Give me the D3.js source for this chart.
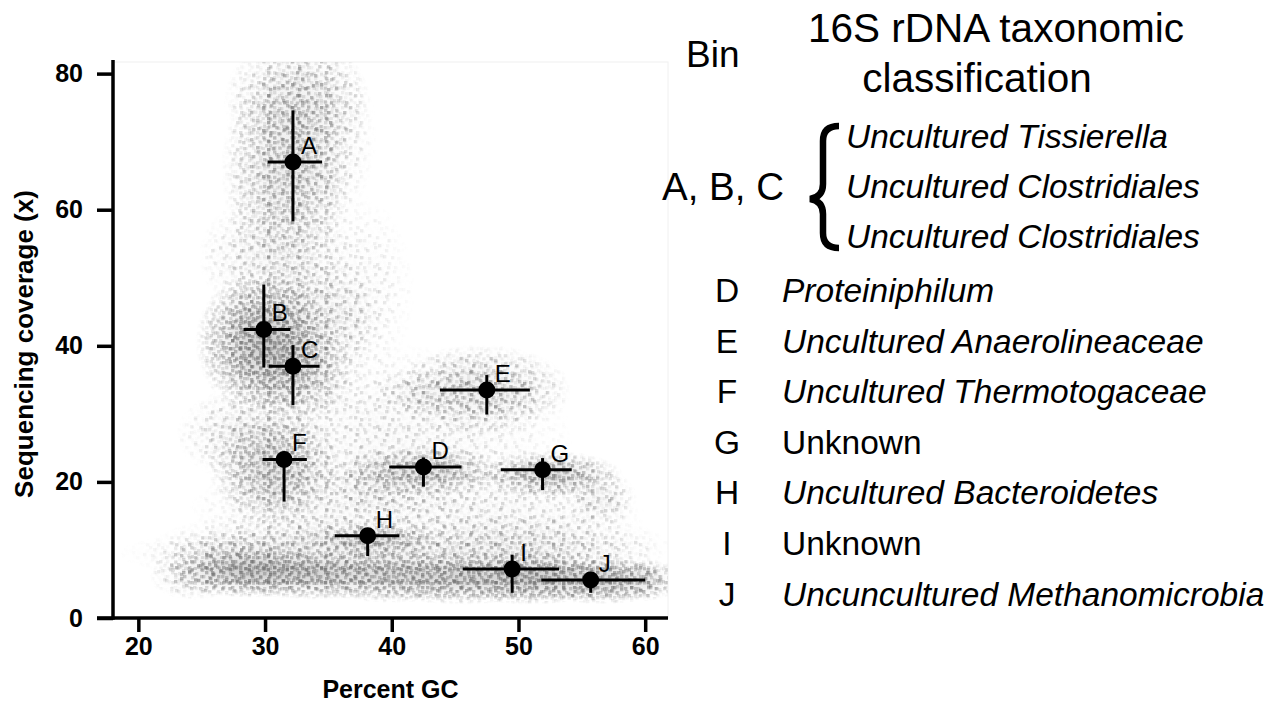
<!DOCTYPE html>
<html>
<head>
<meta charset="utf-8">
<script src="https://cdn.jsdelivr.net/npm/d3@7"></script>
<style>
  body { margin: 0; background: #fff; }
  text { font-family: "Liberation Sans", Arial, sans-serif; }
</style>
</head>
<body>
<div id="chart"></div>
<script>
// bins (error-bar crosses)
const bins = ["A", "B", "C", "D", "E", "F", "G", "H", "I", "J"];
const binGc = [32.2, 29.9, 32.2, 42.5, 47.5, 31.5, 51.9, 38.1, 49.5, 55.7];
const binCov = [67.0, 42.4, 37.0, 22.2, 33.5, 23.3, 21.8, 12.1, 7.2, 5.6];
const gcLow = [30.2, 28.3, 30.3, 39.8, 43.8, 29.8, 48.6, 35.5, 45.6, 51.8];
const gcHigh = [34.5, 32.0, 34.3, 45.5, 50.9, 33.3, 54.2, 40.6, 53.2, 60.0];
const covLow = [58.3, 36.8, 31.3, 19.3, 29.9, 17.1, 18.8, 9.1, 3.7, 3.7];
const covHigh = [74.6, 49.0, 40.1, 23.6, 35.7, 24.5, 23.5, 12.8, 9.3, 6.6];

// contig cloud, read as density blobs (centre, spread, density)
const cloudGc = [24.5, 29, 34, 40, 45.5, 51, 56.5, 60, 38.5, 33, 50,
                 31.8, 32.5, 34, 31, 30, 32.5, 33.5, 30.8, 29, 42.5, 39,
                 52.5, 56.5, 47, 42.5, 40, 36, 48, 37, 40, 28];
const cloudCov = [6.0, 6.8, 6.5, 6.3, 6.0, 6.0, 5.6, 5.6, 11.5, 10.5, 10.5,
                  66, 76, 71, 53, 40.5, 36.5, 44, 22, 27, 21.5, 20,
                  21, 17.5, 33.5, 33, 26, 16, 15, 48, 9.5, 8];
const cloudSdGc = [1.5, 2.8, 3, 3, 3, 2.8, 2.5, 1.2, 2.4, 5, 5,
                   2.2, 2.4, 2, 2.6, 2.3, 2, 2.5, 2.2, 2.5, 2.8, 2,
                   2.4, 1.2, 3, 1.8, 6, 5, 5, 2, 9, 3];
const cloudSdCov = [1.4, 1.6, 1.6, 1.7, 1.7, 1.7, 1.5, 1.3, 1.1, 2.2, 2.2,
                    6.5, 4, 6, 4, 4.5, 3.5, 4, 3.6, 3, 1.6, 2,
                    1.5, 1.8, 2.8, 1.5, 6, 3, 3, 6, 2, 2];
const cloudDensity = [0.3, 0.8, 0.75, 0.7, 0.75, 0.85, 0.8, 0.45, 0.6, 0.3, 0.3,
                      0.5, 0.4, 0.25, 0.3, 0.85, 0.55, 0.35, 0.6, 0.3, 0.6, 0.3,
                      0.65, 0.3, 0.45, 0.25, 0.2, 0.22, 0.2, 0.15, 0.3, 0.45];

// ticks
const xTicks = [20, 30, 40, 50, 60];
const yTicks = [0, 20, 40, 60, 80];

// legend
const abcTaxa = ["Uncultured Tissierella", "Uncultured Clostridiales", "Uncultured Clostridiales"];
const legendBins = ["D", "E", "F", "G", "H", "I", "J"];
const legendTaxa = ["Proteiniphilum", "Uncultured Anaerolineaceae", "Uncultured Thermotogaceae",
                    "Unknown", "Uncultured Bacteroidetes", "Unknown", "Uncuncultured Methanomicrobia"];
const legendItalic = [true, true, true, false, true, false, true];

function drawChart() {
    const width = 1284, height = 702;
    const plot = {left: 113, right: 668, top: 60, bottom: 618};

    const svg = d3.select("#chart")
        .append("svg")
        .attr("width", width)
        .attr("height", height);

    const x = d3.scaleLinear().domain([18, 61.8]).range([plot.left, plot.right]);
    const y = d3.scaleLinear().domain([0, 82]).range([plot.bottom, plot.top]);

    const defs = svg.append("defs");

    defs.append("clipPath").attr("id", "plotClip")
        .append("rect")
        .attr("x", plot.left).attr("y", plot.top + 2)
        .attr("width", plot.right - plot.left).attr("height", plot.bottom - plot.top - 2);

    // soft falloff used for the haze and for the speckle masks
    function blobGradient(id, color, stops) {
        const g = defs.append("radialGradient").attr("id", id);
        stops.forEach(s => g.append("stop")
            .attr("offset", s[0]).attr("stop-color", color).attr("stop-opacity", s[1]));
    }
    blobGradient("hazeGrad", "#8a8a8a", [[0, 1], [0.35, 0.65], [0.65, 0.22], [1, 0]]);
    blobGradient("maskGrad", "#ffffff", [[0, 1], [0.45, 0.8], [0.75, 0.35], [1, 0]]);

    // speckle textures standing in for the individual contigs
    const spotAlpha = [0.7, 0.45, 0.6, 0.5, 0.8, 0.4, 0.65, 0.55, 0.5];
    function speckle(id, w, h, spots, color) {
        const p = defs.append("pattern").attr("id", id)
            .attr("patternUnits", "userSpaceOnUse").attr("width", w).attr("height", h);
        spots.forEach((s, i) => p.append("rect")
            .attr("x", s[0]).attr("y", s[1]).attr("width", 3.4).attr("height", 3.4)
            .attr("fill", color).attr("fill-opacity", spotAlpha[i % spotAlpha.length]));
    }
    speckle("speckA", 31, 27, [[2, 3], [14, 1], [25, 6], [8, 11], [19, 13], [27, 18], [4, 20], [15, 23], [22, 23]], "#8c8c8c");
    speckle("speckB", 29, 23, [[6, 2], [20, 4], [11, 9], [25, 12], [1, 14], [16, 17], [8, 19]], "#888");
    speckle("speckC", 17, 15, [[1, 1], [8, 2], [13, 5], [4, 6], [10, 9], [14, 11.5], [1, 11], [6.5, 12]], "#7a7a7a");
    speckle("speckD", 19, 13, [[3, 1], [12, 3], [16, 8], [7, 6.5], [0.5, 9], [11, 10]], "#707070");

    const blobs = cloudGc.map((g, i) => ({
        gc: g, cov: cloudCov[i], sdGc: cloudSdGc[i], sdCov: cloudSdCov[i], d: cloudDensity[i]
    }));

    function densityMask(id, opacity) {
        const m = defs.append("mask").attr("id", id)
            .attr("maskUnits", "userSpaceOnUse")
            .attr("x", 0).attr("y", 0).attr("width", width).attr("height", height);
        m.selectAll("ellipse")
            .data(blobs)
            .join("ellipse")
            .attr("cx", d => x(d.gc))
            .attr("cy", d => y(d.cov))
            .attr("rx", d => x(d.gc + 2.4 * d.sdGc) - x(d.gc))
            .attr("ry", d => y(d.cov) - y(d.cov + 2.4 * d.sdCov))
            .attr("fill", "url(#maskGrad)")
            .attr("fill-opacity", opacity);
    }
    densityMask("maskSparse", d => Math.min(1, d.d * 2.2));
    densityMask("maskDense", d => Math.min(1, d.d * d.d * 1.4));

    // faint frame of the scatter panel
    svg.append("rect")
        .attr("x", plot.left).attr("y", plot.top + 2)
        .attr("width", plot.right - plot.left).attr("height", plot.bottom - plot.top - 2)
        .attr("fill", "none").attr("stroke", "#f0f0f0");

    const cloud = svg.append("g").attr("clip-path", "url(#plotClip)");

    cloud.selectAll(".haze")
        .data(blobs)
        .join("ellipse")
        .attr("class", "haze")
        .attr("cx", d => x(d.gc))
        .attr("cy", d => y(d.cov))
        .attr("rx", d => x(d.gc + 2.1 * d.sdGc) - x(d.gc))
        .attr("ry", d => y(d.cov) - y(d.cov + 2.1 * d.sdCov))
        .attr("fill", "url(#hazeGrad)")
        .attr("fill-opacity", d => d.d * d.d * 0.6);

    [["speckA", "maskSparse"], ["speckB", "maskSparse"],
     ["speckC", "maskDense"], ["speckD", "maskDense"]].forEach(l => {
        cloud.append("rect")
            .attr("x", plot.left).attr("y", plot.top)
            .attr("width", plot.right - plot.left).attr("height", plot.bottom - plot.top)
            .attr("fill", `url(#${l[0]})`)
            .attr("mask", `url(#${l[1]})`);
    });

    // bins: error bars, dots and letters
    const binData = bins.map((b, i) => ({
        name: b, gc: binGc[i], cov: binCov[i],
        gcLo: gcLow[i], gcHi: gcHigh[i], covLo: covLow[i], covHi: covHigh[i]
    }));

    const gBins = svg.append("g");
    gBins.selectAll(".hbar")
        .data(binData)
        .join("line")
        .attr("x1", d => x(d.gcLo)).attr("x2", d => x(d.gcHi))
        .attr("y1", d => y(d.cov)).attr("y2", d => y(d.cov))
        .attr("stroke", "#000").attr("stroke-width", 3);
    gBins.selectAll(".vbar")
        .data(binData)
        .join("line")
        .attr("x1", d => x(d.gc)).attr("x2", d => x(d.gc))
        .attr("y1", d => y(d.covLo)).attr("y2", d => y(d.covHi))
        .attr("stroke", "#000").attr("stroke-width", 3);
    gBins.selectAll("circle")
        .data(binData)
        .join("circle")
        .attr("cx", d => x(d.gc)).attr("cy", d => y(d.cov))
        .attr("r", 8.5).attr("fill", "#000");
    gBins.selectAll("text")
        .data(binData)
        .join("text")
        .attr("x", d => x(d.gc) + 8)
        .attr("y", d => y(d.cov) - 8)
        .attr("font-size", 24)
        .text(d => d.name);

    // axes
    const yAxis = svg.append("g")
        .attr("transform", `translate(${plot.left},0)`)
        .call(d3.axisLeft(y).tickValues(yTicks).tickSize(16).tickPadding(14));
    const xAxis = svg.append("g")
        .attr("transform", `translate(0,${plot.bottom})`)
        .call(d3.axisBottom(x).tickValues(xTicks).tickSize(14).tickPadding(5));
    [yAxis, xAxis].forEach(a => {
        a.select(".domain").remove();
        a.selectAll(".tick line").attr("stroke", "#000").attr("stroke-width", 3.5);
        a.selectAll(".tick text")
            .attr("fill", "#000")
            .attr("font-family", "Liberation Sans, Arial, sans-serif")
            .attr("font-weight", "bold")
            .attr("font-size", 25);
    });
    svg.append("line")
        .attr("x1", plot.left).attr("x2", plot.left)
        .attr("y1", plot.top).attr("y2", plot.bottom + 1.75)
        .attr("stroke", "#000").attr("stroke-width", 3.5);
    svg.append("line")
        .attr("x1", plot.left - 16).attr("x2", plot.right)
        .attr("y1", plot.bottom).attr("y2", plot.bottom)
        .attr("stroke", "#000").attr("stroke-width", 3.5);

    svg.append("text")
        .attr("transform", `translate(33,${(plot.top + plot.bottom) / 2 + 5}) rotate(-90)`)
        .attr("text-anchor", "middle")
        .attr("font-weight", "bold")
        .attr("font-size", 26)
        .text("Sequencing coverage (x)");
    svg.append("text")
        .attr("x", (plot.left + plot.right) / 2)
        .attr("y", 698)
        .attr("text-anchor", "middle")
        .attr("font-weight", "bold")
        .attr("font-size", 25)
        .text("Percent GC");

    // legend table
    const legend = svg.append("g");
    legend.append("text").attr("x", 686).attr("y", 67).attr("font-size", 37).text("Bin");
    legend.append("text").attr("x", 996).attr("y", 42).attr("text-anchor", "middle")
        .attr("font-size", 40.5).text("16S rDNA taxonomic");
    legend.append("text").attr("x", 977).attr("y", 92).attr("text-anchor", "middle")
        .attr("font-size", 40.5).text("classification");

    legend.append("text").attr("x", 662).attr("y", 200).attr("font-size", 38.5).text("A, B, C");
    legend.append("path")
        .attr("d", "M839,126 Q823,126 823,141 L823,184 Q823,197 810,199 Q823,201 823,214 L823,233 Q823,248 839,248")
        .attr("fill", "none").attr("stroke", "#000").attr("stroke-width", 6.5);
    legend.selectAll(".abc")
        .data(abcTaxa)
        .join("text")
        .attr("x", 846)
        .attr("y", (d, i) => 148 + i * 50)
        .attr("font-size", 33.5)
        .attr("font-style", "italic")
        .text(d => d);

    const rows = legendBins.map((b, i) => ({bin: b, taxon: legendTaxa[i], italic: legendItalic[i]}));
    const row = legend.selectAll(".row")
        .data(rows)
        .join("g")
        .attr("transform", (d, i) => `translate(0,${302 + i * 50.6})`);
    row.append("text")
        .attr("x", 727).attr("text-anchor", "middle")
        .attr("font-size", 33.5)
        .text(d => d.bin);
    row.append("text")
        .attr("x", 782)
        .attr("font-size", 33.5)
        .attr("font-style", d => d.italic ? "italic" : "normal")
        .text(d => d.taxon);
}

drawChart();
</script>
</body>
</html>
